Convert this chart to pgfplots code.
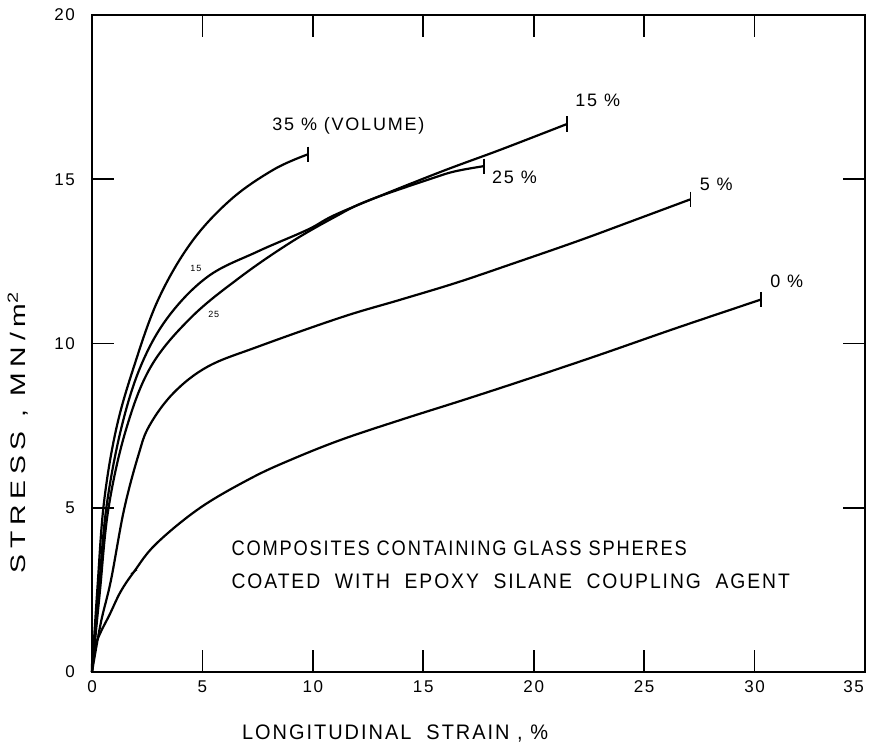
\documentclass[border=0pt]{standalone}
\usepackage{fontspec}
\setmainfont{Liberation Sans}[LetterSpace=10]
\usepackage{pgfplots}
\pgfplotsset{compat=1.18}
\begin{document}
\begin{tikzpicture}
\begin{axis}[
  scale only axis, width=386.5pt, height=328.5pt,
  xmin=0, xmax=35, ymin=0, ymax=20,
  xtick={0,5,...,30}, ytick={0,5,...,20},
  extra x ticks={35},
  extra x tick style={xticklabel style={anchor=north east, xshift=3pt}},
  tick align=inside, major tick length=11pt,
  tick style={line width=0.8pt, black},
  axis line style={line width=1.4pt},
  ticklabel style={font=\fontsize{8.5}{10}\selectfont},
  yticklabel style={xshift=-5pt},
  xticklabel style={yshift=-1pt},
  /pgf/number format/assume math mode=true,
  clip=false,
  every axis plot/.append style={line width=1.1pt, black},
]
\addplot[smooth, tension=0.6] coordinates {(0,0) (0.25,2.6) (0.54,5.15) (1.09,7.38) (1.9,9.3) (3.0,11.34) (4.5,13.08) (6.3,14.39) (8.24,15.3) (9.78,15.76)};
\addplot[only marks, mark=|, mark size=3.8pt, mark options={line width=0.9pt}] coordinates {(9.78,15.76)};

\addplot[smooth, tension=0.6] coordinates {(0,0) (0.3,2.4) (0.65,5.0) (1.31,7.38) (2.2,9.3) (3.44,10.8) (5.25,12.04) (7.5,12.8) (9.78,13.47) (11.28,14.0) (15.5,15.15) (18.5,15.9) (21.5,16.68)};
\addplot[only marks, mark=|, mark size=3.8pt, mark options={line width=0.9pt}] coordinates {(21.5,16.68)};

\addplot[smooth, tension=0.6] coordinates {(0,0) (0.35,2.4) (0.75,5.0) (1.54,7.38) (2.67,9.3) (4.5,10.8) (6.75,12.04) (9.0,13.08) (10.96,13.84) (12.5,14.35) (15.5,15.05) (16.5,15.25) (17.75,15.4)};
\addplot[only marks, mark=|, mark size=3.8pt, mark options={line width=0.9pt}] coordinates {(17.75,15.4)};

\addplot[smooth, tension=0.6] coordinates {(0,0) (0.4,1.5) (0.86,2.8) (1.45,4.94) (2.1,6.6) (2.6,7.5) (3.7,8.5) (5.25,9.3) (7.5,9.9) (11.3,10.8) (14.0,11.34) (16.5,11.85) (19.0,12.42) (22.0,13.12) (24.5,13.74) (27.1,14.39)};
\addplot[only marks, mark=|, mark size=3.8pt, mark options={line width=0.9pt}] coordinates {(27.1,14.39)};

\addplot[smooth, tension=0.6] coordinates {(0,0) (0.05,0.6) (0.35,1.15) (0.8,1.75) (1.3,2.45) (1.9,3.05) (2.9,3.9) (4.9,5.0) (7.2,5.9) (9.0,6.46) (11.28,7.07) (14.0,7.68) (17.0,8.32) (20.0,8.98) (23.0,9.66) (26.5,10.48) (30.3,11.34)};
\addplot[only marks, mark=|, mark size=3.8pt, mark options={line width=0.9pt}] coordinates {(30.3,11.34)};
\addplot[only marks, mark=|, mark size=1.8pt, mark options={line width=0.7pt, rotate=-55}] coordinates {(1.9,3.05)};

\node[anchor=west, font=\fontsize{9}{10}\selectfont, inner sep=0pt] at (axis cs:8.15,16.62) {35 \% (VOLUME)};
\node[anchor=west, font=\fontsize{9}{10}\selectfont, inner sep=0pt] at (axis cs:21.87,17.41) {15 \%};
\node[anchor=west, font=\fontsize{9}{10}\selectfont, inner sep=0pt] at (axis cs:18.1,15.06) {25 \%};
\node[anchor=west, font=\fontsize{9}{10}\selectfont, inner sep=0pt] at (axis cs:27.5,14.85) {5 \%};
\node[anchor=west, font=\fontsize{9}{10}\selectfont, inner sep=0pt] at (axis cs:30.7,11.89) {0 \%};
\node[anchor=west, font=\fontsize{4.5}{5}\selectfont, inner sep=0pt] at (axis cs:4.44,12.29) {15};
\node[anchor=west, font=\fontsize{4.5}{5}\selectfont, inner sep=0pt] at (axis cs:5.25,10.88) {25};
\node[anchor=west, font=\fontsize{10.5}{12}\selectfont, inner sep=0pt] at (axis cs:6.3,3.78) {\scalebox{0.87}[1]{COMPOSITES CONTAINING GLASS SPHERES}};
\node[anchor=west, font=\fontsize{10.5}{12}\selectfont, inner sep=0pt] at (axis cs:6.3,2.77) {\scalebox{0.92}[1]{COATED \ WITH \ EPOXY \ SILANE \ COUPLING \ AGENT}};

\coordinate (xl) at (rel axis cs:0.392,0);
\coordinate (yl) at (rel axis cs:0,0.365);
\coordinate (sw) at (rel axis cs:0,0);
\coordinate (ne) at (rel axis cs:1,1);
\node[font=\fontsize{10.5}{12}\selectfont, inner sep=0pt] at ([yshift=-30.5pt]xl) {\scalebox{0.95}[1]{LONGITUDINAL \ STRAIN , \%}};
\node[rotate=90, font=\fontsize{10.5}{12}\selectfont, inner sep=0pt] at ([xshift=-37pt]yl) {\addfontfeature{LetterSpace=20}\scalebox{1.35}[1]{STRESS , MN/m\textsuperscript{2}}};
\end{axis}
\pgfresetboundingbox
\path ([shift={(-46pt,-38.5pt)}]sw) rectangle ([shift={(2pt,7.5pt)}]ne);
\end{tikzpicture}
\end{document}
